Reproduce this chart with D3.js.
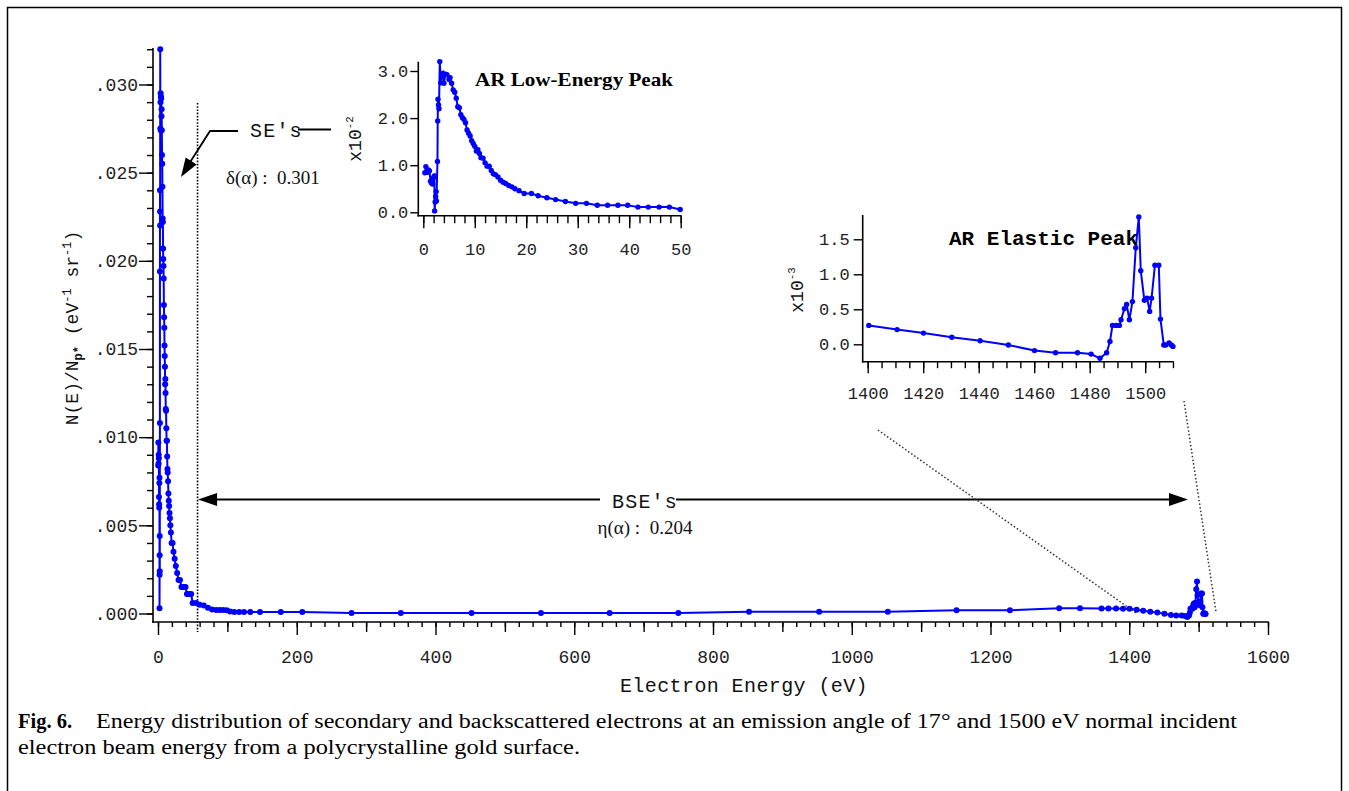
<!DOCTYPE html>
<html>
<head>
<meta charset="utf-8">
<script src="https://cdn.jsdelivr.net/npm/d3@7"></script>
<style>
  body { margin: 0; background: #fff; }
  svg { display: block; }
  text { white-space: pre; }
</style>
</head>
<body>
<svg id="chart" width="1349" height="791"></svg>
<script>
// ===================== data =====================
// Low-energy (SE) peak, inset units x10^-2 : [energy eV, value]
const lowPeak = [
  [0.3, 0.84], [0.5, 0.97], [0.8, 0.85], [1.0, 0.90], [1.2, 0.88], [1.4, 0.66], [1.6, 0.62],
  [1.8, 0.60], [2.0, 0.74], [2.15, 0.77], [2.2, 0.03], [2.3, 0.22], [2.4, 0.33], [2.5, 0.44],
  [2.55, 0.24], [2.75, 1.08], [2.8, 1.94], [2.85, 2.40], [2.95, 2.28], [3.05, 2.20], [3.2, 3.20],
  [3.4, 2.75], [3.6, 2.90], [3.8, 2.95], [4.0, 2.74], [4.3, 2.93], [4.6, 2.92], [5.0, 2.82],
  [5.2, 2.86], [5.5, 2.74], [5.8, 2.60], [6.1, 2.55], [6.4, 2.42], [6.7, 2.24], [7.0, 2.22],
  [7.3, 2.07], [7.6, 2.01], [7.9, 1.97], [8.2, 1.90], [8.5, 1.75], [8.8, 1.68], [9.1, 1.62],
  [9.4, 1.52], [9.7, 1.46], [10.0, 1.40], [10.3, 1.30], [10.6, 1.33], [10.9, 1.25], [11.2, 1.16],
  [11.6, 1.15], [12.0, 1.05], [12.4, 0.98], [12.8, 0.98], [13.2, 0.89], [13.6, 0.82], [14.0, 0.80],
  [14.5, 0.75], [15.0, 0.68], [15.5, 0.64], [16.0, 0.61], [16.6, 0.57], [17.2, 0.54], [17.8, 0.50],
  [18.6, 0.46], [19.6, 0.40], [21.0, 0.40], [22.3, 0.35], [24.0, 0.31], [25.7, 0.27], [27.6, 0.23],
  [29.6, 0.19], [31.7, 0.19], [33.8, 0.15], [35.8, 0.15], [37.8, 0.15], [39.7, 0.15], [41.7, 0.11],
  [43.7, 0.11], [45.8, 0.11], [47.8, 0.11], [49.9, 0.06]
];
// Region between the two peaks, units x10^-3 : [energy eV, value]
const midRange = [
  [55, 0.60], [60, 0.50], [66, 0.46], [72, 0.32], [78, 0.22], [84, 0.20], [89, 0.20], [94, 0.20],
  [99, 0.19], [104, 0.12], [110, 0.08], [117, 0.08], [124, 0.09], [133, 0.09], [147, 0.09],
  [177, 0.09], [208, 0.09], [279, 0.03], [350, 0.03], [452, 0.03], [552, 0.03], [651, 0.03],
  [750, 0.03], [852, 0.10], [953, 0.10], [1052, 0.10], [1151, 0.18], [1228, 0.18], [1299, 0.30],
  [1329, 0.30], [1360, 0.29], [1370, 0.29], [1381, 0.28], [1391, 0.27]
];
// Elastic peak, inset units x10^-3 : [energy eV, value]
const elasticPeak = [
  [1400.4, 0.27], [1410.6, 0.21], [1420.1, 0.16], [1430.3, 0.10], [1440.5, 0.05], [1450.7, -0.01],
  [1460.1, -0.09], [1467.7, -0.12], [1475.6, -0.12], [1480.5, -0.14], [1483.7, -0.20], [1486.1, -0.12],
  [1487.3, 0.04], [1488.2, 0.27], [1489.5, 0.27], [1490.7, 0.27], [1491.3, 0.35], [1492.5, 0.51],
  [1493.3, 0.57], [1494.3, 0.35], [1495.4, 0.61], [1496.6, 1.38], [1497.7, 1.82], [1498.4, 1.05],
  [1499.7, 0.63], [1500.7, 0.66], [1501.6, 0.47], [1502.3, 0.66], [1503.5, 1.13], [1504.9, 1.13],
  [1505.5, 0.36], [1506.7, -0.01], [1507.4, -0.01], [1508.6, 0.02], [1509.4, -0.01], [1510.0, -0.03]
];

// tick values
const mainXMajor = d3.range(0, 1601, 200),
      mainXMid = d3.range(100, 1600, 200),
      mainXMinor = d3.range(0, 1601, 20),
      mainYMajor = [0, 0.005, 0.010, 0.015, 0.020, 0.025, 0.030],
      mainYMinor = d3.range(0, 33).map(i => i / 1000),
      lowXMajor = [0, 10, 20, 30, 40, 50],
      lowXMinor = d3.range(0, 51, 2),
      lowYMajor = [0, 1, 2, 3],
      elXMajor = [1400, 1420, 1440, 1460, 1480, 1500],
      elXMinor = d3.range(1400, 1511, 5),
      elYMajor = [0, 0.5, 1.0, 1.5];

// ===================== setup =====================
const mono = '"Liberation Mono", "Courier New", monospace',
      serif = '"Liberation Serif", "Times New Roman", serif',
      blue = '#0000ff';

const svg = d3.select('#chart');

svg.append('rect')        // outer frame
  .attr('x', 7.5).attr('y', 7.5)
  .attr('width', 1334).attr('height', 800)
  .attr('fill', 'none').attr('stroke', '#000').attr('stroke-width', 1.5);

// Draws one set of ticks with d3's axis, domain path removed.
function addTicks(axisFn, scale, values, size, tx, ty, fmt) {
  const g = svg.append('g')
    .attr('transform', 'translate(' + tx + ',' + ty + ')')
    .call(axisFn(scale).tickValues(values).tickSize(size).tickFormat(fmt || ''));
  g.select('.domain').remove();
  g.selectAll('.tick line').attr('stroke', '#000').attr('stroke-width', 1.4);
  return g;
}

function styleLabels(g, size) {
  return g.selectAll('.tick text')
    .style('font-family', mono).style('font-size', size + 'px').attr('fill', '#222');
}

function axisLine(x1, y1, x2, y2) {
  svg.append('line')
    .attr('x1', x1).attr('y1', y1).attr('x2', x2).attr('y2', y2)
    .attr('stroke', '#000').attr('stroke-width', 1.6);
}

function drawSeries(data, xs, ys, r) {
  const line = d3.line().x(d => xs(d[0])).y(d => ys(d[1]));
  svg.append('path').datum(data)
    .attr('d', line).attr('fill', 'none').attr('stroke', blue).attr('stroke-width', 2);
  svg.append('g').selectAll('circle').data(data).enter().append('circle')
    .attr('cx', d => xs(d[0])).attr('cy', d => ys(d[1])).attr('r', r).attr('fill', blue);
}

function rotLabel(x, y, base, sup, size) {
  const t = svg.append('text')
    .attr('transform', 'translate(' + x + ',' + y + ') rotate(-90)')
    .attr('text-anchor', 'middle')
    .style('font-family', mono).style('font-size', size + 'px').attr('fill', '#111');
  t.append('tspan').text(base);
  t.append('tspan').attr('dy', -8).style('font-size', (size * 0.6) + 'px').text(sup);
  return t;
}

function arrowHead(tip, from, len, half) {
  const dx = from[0] - tip[0], dy = from[1] - tip[1], n = Math.hypot(dx, dy),
        ux = dx / n, uy = dy / n,
        bx = tip[0] + ux * len, by = tip[1] + uy * len;
  svg.append('polygon')
    .attr('points', [tip, [bx - uy * half, by + ux * half], [bx + uy * half, by - ux * half]]
      .map(p => p.join(',')).join(' '))
    .attr('fill', '#000');
}

// ===================== main plot =====================
const x = d3.scaleLinear([0, 1600], [158, 1268]),
      y = d3.scaleLinear([0, 0.030], [613.5, 84.5]),
      axX = 153, axY = 622;

const mainData = lowPeak.map(d => [d[0], d[1] * 1e-2])
  .concat(midRange.map(d => [d[0], d[1] * 1e-3]))
  .concat(elasticPeak.map(d => [d[0], d[1] * 1e-3]));

// vertical dotted marker (SE / BSE boundary)
const seCut = 57;
svg.append('line')
  .attr('x1', x(seCut)).attr('x2', x(seCut)).attr('y1', 103).attr('y2', 632)
  .attr('stroke', '#000').attr('stroke-width', 1.6).attr('stroke-dasharray', '1.6,1.6');

addTicks(d3.axisLeft, y, mainYMinor, 6, axX, 0);
const gy = addTicks(d3.axisLeft, y, mainYMajor, 14, axX, 0, d => d3.format('.3f')(d).replace(/^0/, ''));
styleLabels(gy, 18).attr('x', -15).attr('dy', '0.32em');

addTicks(d3.axisBottom, x, mainXMinor, 5, 0, axY);
addTicks(d3.axisBottom, x, mainXMid, 10, 0, axY);
const gx = addTicks(d3.axisBottom, x, mainXMajor, 13, 0, axY, d3.format('d'));
styleLabels(gx, 18).attr('y', 35).attr('dy', '0.32em');

axisLine(axX, 48, axX, axY + 0.8);
axisLine(axX - 0.8, axY, x(1600) + 0.8, axY);

drawSeries(mainData, x, y, 3);

svg.append('text')
  .attr('x', 744).attr('y', 692).attr('text-anchor', 'middle')
  .style('font-family', mono).style('font-size', '20px').style('letter-spacing', '0.4px')
  .attr('fill', '#111')
  .text('Electron Energy (eV)');

const yLab = svg.append('text')
  .attr('transform', 'translate(78,328) rotate(-90)')
  .attr('text-anchor', 'middle')
  .style('font-family', mono).style('font-size', '18px').attr('fill', '#111');
yLab.append('tspan').text('N(E)/N');
yLab.append('tspan').attr('dy', 4).style('font-size', '12px').style('font-weight', 'bold').text('p*');
yLab.append('tspan').attr('dy', -4).text(' (eV');
yLab.append('tspan').attr('dy', -7).style('font-size', '12px').text('-1');
yLab.append('tspan').attr('dy', 7).text(' sr');
yLab.append('tspan').attr('dy', -7).style('font-size', '12px').text('-1');
yLab.append('tspan').attr('dy', 7).text(')');

// ===================== annotations =====================
// SE's arrow
svg.append('polyline')
  .attr('points', '238,131 210,131 187,167')
  .attr('fill', 'none').attr('stroke', '#000').attr('stroke-width', 1.8);
arrowHead([181, 177], [210, 131], 19, 6.5);
svg.append('line').attr('x1', 298).attr('y1', 129.5).attr('x2', 331).attr('y2', 129.5)
  .attr('stroke', '#000').attr('stroke-width', 1.8);
svg.append('text').attr('x', 250).attr('y', 137)
  .style('font-family', mono).style('font-size', '20px').style('letter-spacing', '1.2px')
  .attr('fill', '#111').text("SE's");
svg.append('text').attr('x', 226).attr('y', 184)
  .style('font-family', serif).style('font-size', '19px').attr('fill', '#111')
  .text('δ(α) :  0.301');

// BSE's double arrow
const bseY = 499.5, bseL = x(seCut) + 0.5, bseR = 1188;
svg.append('line').attr('x1', bseL + 15).attr('x2', 600).attr('y1', bseY).attr('y2', bseY)
  .attr('stroke', '#000').attr('stroke-width', 1.8);
svg.append('line').attr('x1', 676).attr('x2', bseR - 15).attr('y1', bseY).attr('y2', bseY)
  .attr('stroke', '#000').attr('stroke-width', 1.8);
arrowHead([bseL, bseY], [bseR, bseY], 19, 6.5);
arrowHead([bseR, bseY], [bseL, bseY], 19, 6.5);
svg.append('text').attr('x', 645).attr('y', 508).attr('text-anchor', 'middle')
  .style('font-family', mono).style('font-size', '20px').style('letter-spacing', '1.2px')
  .attr('fill', '#111').text("BSE's");
svg.append('text').attr('x', 645).attr('y', 534).attr('text-anchor', 'middle')
  .style('font-family', serif).style('font-size', '19px').attr('fill', '#111')
  .text('η(α) :  0.204');

// zoom guide lines toward the elastic peak
[[878, 430, 1136, 613], [1184, 401, 1216, 612]].forEach(l => {
  svg.append('line')
    .attr('x1', l[0]).attr('y1', l[1]).attr('x2', l[2]).attr('y2', l[3])
    .attr('stroke', '#333').attr('stroke-width', 1.5).attr('stroke-dasharray', '1.5,2.2');
});

// ===================== inset 1: AR low-energy peak =====================
const lx = d3.scaleLinear([0, 50], [423.3, 680.7]),
      ly = d3.scaleLinear([0, 3], [212.3, 71]),
      lAxX = 418.3, lAxY = 215.7;

addTicks(d3.axisBottom, lx, lowXMinor, 7.5, 0, lAxY);
const glx = addTicks(d3.axisBottom, lx, lowXMajor, 12.5, 0, lAxY, d3.format('d'));
styleLabels(glx, 17).attr('y', 33.5).attr('dy', '0.32em');
const gly = addTicks(d3.axisLeft, ly, lowYMajor, 8, lAxX, 0, d3.format('.1f'));
styleLabels(gly, 17).attr('x', -10).attr('dy', '0.32em');
axisLine(lAxX, 61.7, lAxX, lAxY + 0.8);
axisLine(lAxX - 0.8, lAxY, lx(50) + 0.8, lAxY);

drawSeries(lowPeak, lx, ly, 2.7);

svg.append('text').attr('x', 475).attr('y', 86)
  .attr('textLength', 198).attr('lengthAdjust', 'spacingAndGlyphs')
  .style('font-family', serif).style('font-size', '19px').style('font-weight', 'bold')
  .text('AR Low-Energy Peak');
rotLabel(361, 139, 'x10', '-2', 18);

// ===================== inset 2: AR elastic peak =====================
const ex = d3.scaleLinear([1400, 1500], [867.7, 1145.2]),
      ey = d3.scaleLinear([0, 1.5], [344.3, 239.3]),
      eAxX = 862.7, eAxY = 361.7;

addTicks(d3.axisBottom, ex, elXMinor, 6.5, 0, eAxY);
const gex = addTicks(d3.axisBottom, ex, elXMajor, 11.5, 0, eAxY, d3.format('d'));
styleLabels(gex, 17).attr('y', 31.5).attr('dy', '0.32em');
const gey = addTicks(d3.axisLeft, ey, elYMajor, 9, eAxX, 0, d3.format('.1f'));
styleLabels(gey, 17).attr('x', -13).attr('dy', '0.32em');
axisLine(eAxX, 215, eAxX, eAxY + 0.8);
axisLine(eAxX - 0.8, eAxY, ex(1510) + 0.8, eAxY);

drawSeries(elasticPeak, ex, ey, 2.7);

svg.append('text').attr('x', 949).attr('y', 245)
  .style('font-family', mono).style('font-size', '21px').style('font-weight', 'bold')
  .text('AR Elastic Peak');
rotLabel(803, 290, 'x10', '-3', 18);

// ===================== caption =====================
const cap1 = svg.append('text').attr('x', 18).attr('y', 728)
  .style('font-family', serif).style('font-size', '20.5px').attr('fill', '#000');
cap1.append('tspan').style('font-weight', 'bold').text('Fig. 6.');
cap1.append('tspan').attr('x', 96)
  .attr('textLength', 1141).attr('lengthAdjust', 'spacingAndGlyphs')
  .text('Energy distribution of secondary and backscattered electrons at an emission angle of 17° and 1500 eV normal incident');
svg.append('text').attr('x', 18).attr('y', 754)
  .attr('textLength', 562).attr('lengthAdjust', 'spacingAndGlyphs')
  .style('font-family', serif).style('font-size', '20.5px').attr('fill', '#000')
  .text('electron beam energy from a polycrystalline gold surface.');
</script>
</body>
</html>
